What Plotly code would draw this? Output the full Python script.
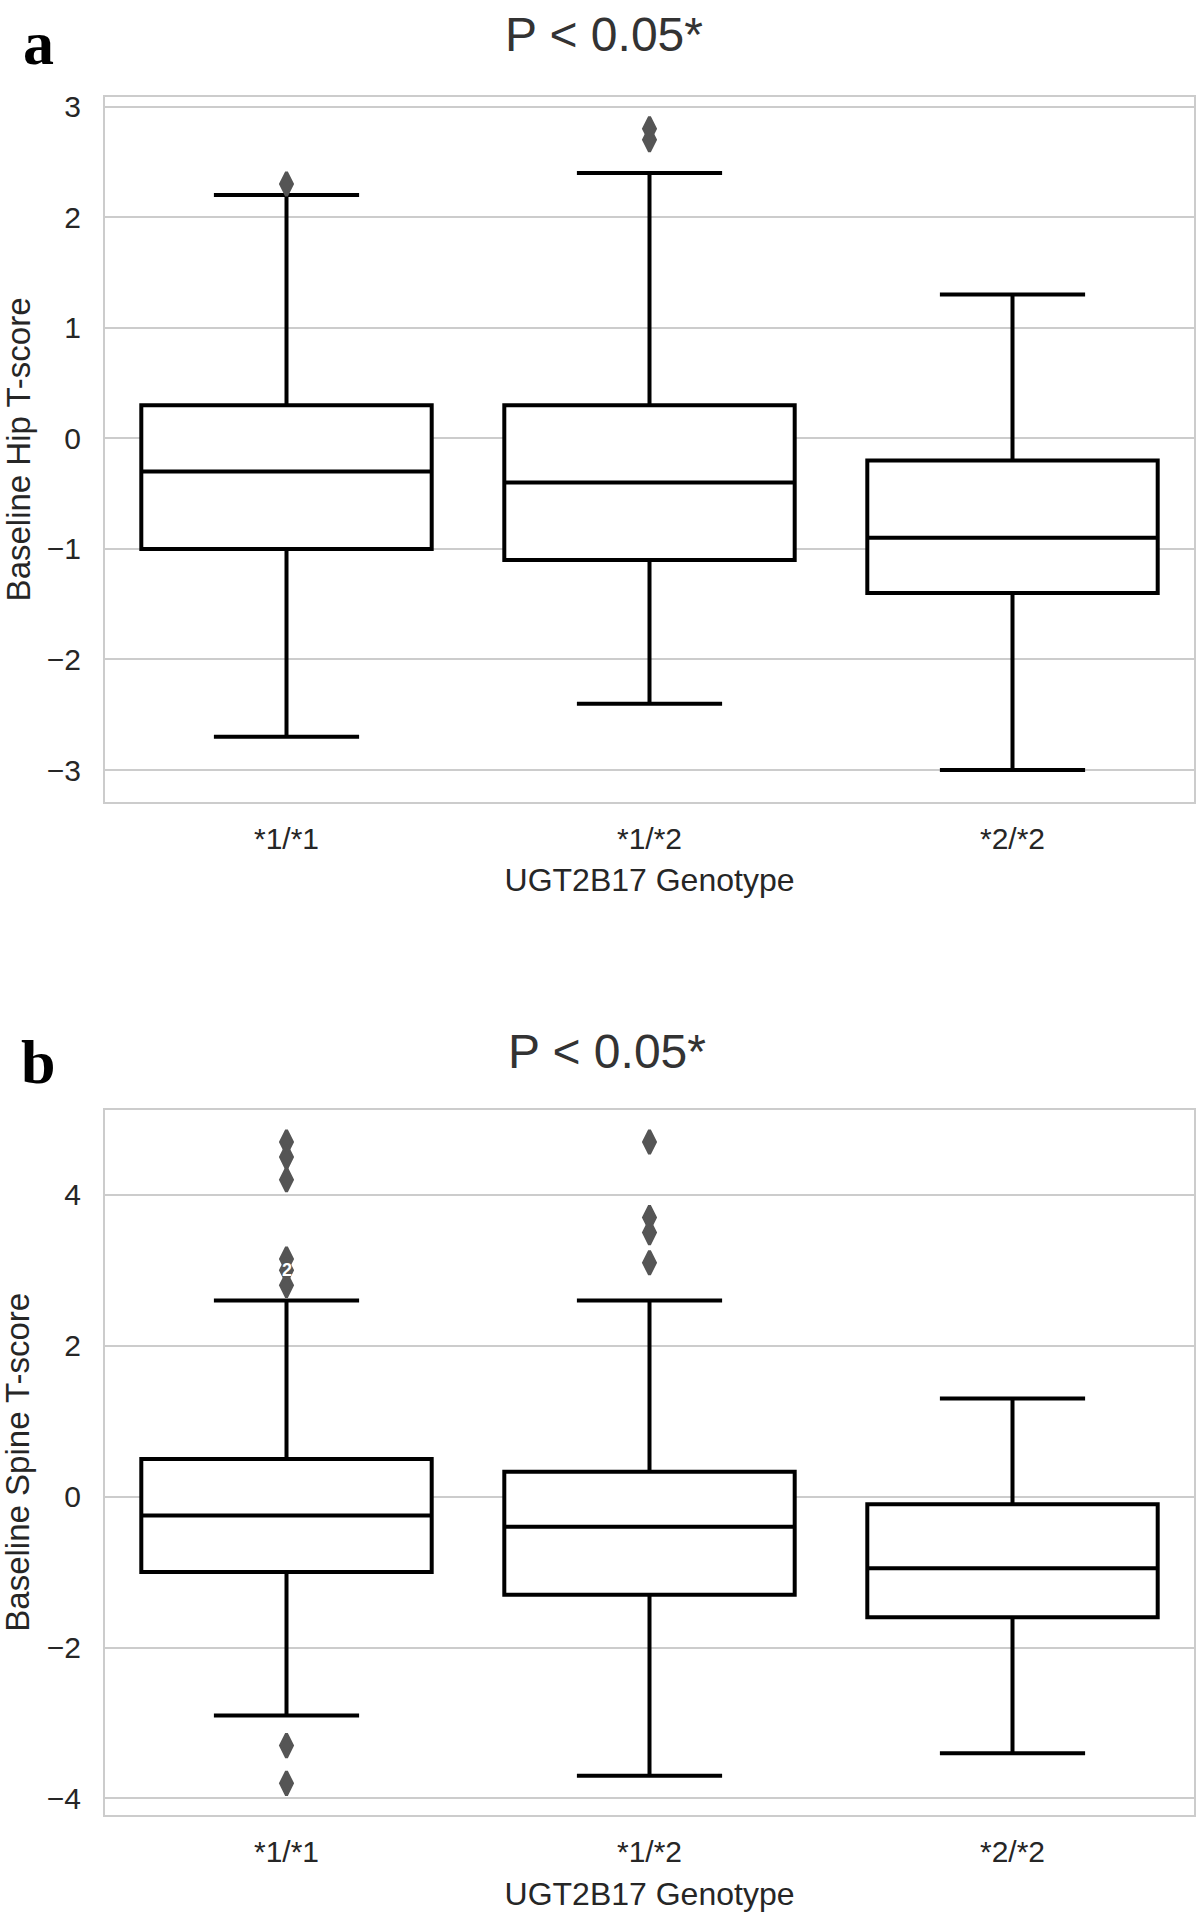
import plotly.graph_objects as go

# ---------------- data ----------------
categories = ["*1/*1", "*1/*2", "*2/*2"]

hip_lower = [-2.7, -2.4, -3.0]
hip_q1 = [-1.0, -1.1, -1.4]
hip_median = [-0.3, -0.4, -0.9]
hip_q3 = [0.3, 0.3, -0.2]
hip_upper = [2.2, 2.4, 1.3]
hip_outlier_x = ["*1/*1", "*1/*2", "*1/*2"]
hip_outlier_y = [2.3, 2.7, 2.8]
hip_ticks = [-3, -2, -1, 0, 1, 2, 3]

spine_lower = [-2.9, -3.7, -3.4]
spine_q1 = [-1.0, -1.3, -1.6]
spine_median = [-0.25, -0.4, -0.95]
spine_q3 = [0.5, 0.33, -0.1]
spine_upper = [2.6, 2.6, 1.3]
spine_outlier_x = ["*1/*1"] * 8 + ["*1/*2"] * 4
spine_outlier_y = [4.7, 4.5, 4.2, 3.15, 3.0, 2.8, -3.3, -3.8, 4.7, 3.7, 3.5, 3.1]
spine_ticks = [-4, -2, 0, 2, 4]

x_title = "UGT2B17 Genotype"
hip_title = "Baseline Hip T-score"
spine_title = "Baseline Spine T-score"
p_text = "P < 0.05*"

# ---------------- layout helpers ----------------
W, H = 1203, 1920
ML, MR = 105, 9
PW = W - ML - MR
DY = -4  # vertical correction


def px2x(px):
    return (px - ML) / PW


def py2y(py):
    return 1 - (py + DY) / H


def padded_range(values, pad=0.05):
    lo, hi = min(values), max(values)
    d = (hi - lo) * pad
    return [lo - d, hi + d]


hip_range = padded_range(hip_lower + hip_upper + hip_outlier_y)
spine_range = padded_range(spine_lower + spine_upper + spine_outlier_y)

SANS = "Liberation Sans, Arial, sans-serif"
TICK_FONT = dict(family=SANS, size=30, color="#262626")
XTITLE_FONT = dict(family=SANS, size=32, color="#262626")
YTITLE_FONT = dict(family=SANS, size=33, color="#262626")
P_FONT = dict(family=SANS, size=48, color="#333333")
GRID = "#cccccc"

fig = go.Figure()

box_style = dict(
    fillcolor="white",
    line=dict(color="black", width=4),
    width=0.8,
    whiskerwidth=0.5,
    boxpoints=False,
    showlegend=False,
    hoverinfo="skip",
)
flier_style = dict(
    mode="markers",
    marker=dict(symbol="diamond-tall", size=17, color="#555555",
                line=dict(width=3, color="#555555")),
    showlegend=False,
)

fig.add_trace(go.Box(x=categories, q1=hip_q1, median=hip_median, q3=hip_q3,
                     lowerfence=hip_lower, upperfence=hip_upper,
                     xaxis="x", yaxis="y", **box_style))
fig.add_trace(go.Scatter(x=hip_outlier_x, y=hip_outlier_y, xaxis="x", yaxis="y",
                         **flier_style))

fig.add_trace(go.Box(x=categories, q1=spine_q1, median=spine_median, q3=spine_q3,
                     lowerfence=spine_lower, upperfence=spine_upper,
                     xaxis="x2", yaxis="y2", **box_style))
fig.add_trace(go.Scatter(x=spine_outlier_x, y=spine_outlier_y, xaxis="x2", yaxis="y2",
                         **flier_style))


def xaxis(anchor):
    return dict(
        anchor=anchor, domain=[0, 1], type="category",
        categoryorder="array", categoryarray=categories,
        range=[-0.5, len(categories) - 0.5],
        showgrid=False, zeroline=False,
        showline=True, mirror=True, linecolor=GRID, linewidth=2,
        ticks="", tickfont=TICK_FONT, ticklabelstandoff=9,
        title=dict(text=x_title, font=XTITLE_FONT, standoff=15),
    )


def yaxis(anchor, dom, rng, ticks):
    return dict(
        anchor=anchor, domain=dom, range=rng,
        tickvals=ticks,
        showgrid=True, gridcolor=GRID, gridwidth=2, zeroline=False,
        showline=True, mirror=True, linecolor=GRID, linewidth=2,
        ticks="", tickfont=TICK_FONT, ticklabelstandoff=16,
    )


fig.update_layout(
    width=W, height=H,
    margin=dict(l=ML, r=MR, t=0, b=0),
    paper_bgcolor="white", plot_bgcolor="white",
    xaxis=xaxis("y"),
    yaxis=yaxis("x", [py2y(802), py2y(94)], hip_range, hip_ticks),
    xaxis2=xaxis("y2"),
    yaxis2=yaxis("x2", [py2y(1819), py2y(1111)], spine_range, spine_ticks),
)

SERIF = "Liberation Serif, Times New Roman, serif"
annotations = [
    dict(text="<b>a</b>", x=px2x(38), y=1, yanchor="top",
         font=dict(family=SERIF, size=62, color="black")),
    dict(text="<b>b</b>", x=px2x(38), y=py2y(1063), yanchor="middle",
         font=dict(family=SERIF, size=62, color="black")),
    dict(text=p_text, x=px2x(604), y=1, yanchor="top", borderpad=0, font=P_FONT),
    dict(text=p_text, x=px2x(607), y=py2y(1052), yanchor="middle", font=P_FONT),
    dict(text=hip_title, x=px2x(18), y=py2y(448), yanchor="middle", textangle=-90, font=YTITLE_FONT),
    dict(text=spine_title, x=px2x(18), y=py2y(1465), yanchor="middle", textangle=-90, font=YTITLE_FONT),
]
for a in annotations:
    a.update(xref="paper", yref="paper", xanchor="center", showarrow=False)
    fig.add_annotation(**a)

# small white label printed over a flier in panel b
fig.add_annotation(text="<b>2</b>", x=categories[0], y=3.0, xref="x2", yref="y2",
                   showarrow=False, font=dict(family=SANS, size=18, color="white"))

fig.write_html("out.html", config={"displayModeBar": False},
               post_script="document.body.style.margin='0';")
